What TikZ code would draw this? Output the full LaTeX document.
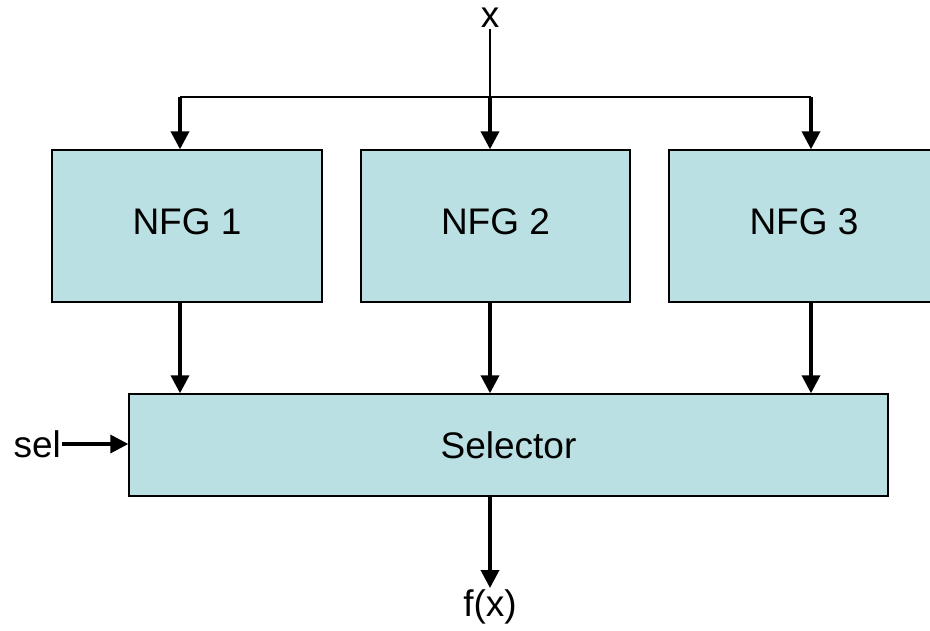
\documentclass[tikz,border=0pt]{standalone}
\usepackage{fontspec}
\setmainfont{Liberation Sans}
\usetikzlibrary{arrows.meta,calc}
\definecolor{boxfill}{HTML}{BAE0E3}
\tikzset{
  blk/.style={draw=black, line width=1.4pt, fill=boxfill, font=\fontsize{37}{40}\selectfont, inner sep=0pt},
  nfg/.style={blk, minimum height=152pt, text depth=8pt},
  lbl/.style={font=\fontsize{37}{40}\selectfont, inner sep=1pt},
  arr/.style={line width=3.6pt, -{Triangle[length=18pt,width=18pt]}},
  bus/.style={line width=1.5pt}
}
\begin{document}
\begin{tikzpicture}[x=1pt,y=1pt]
\useasboundingbox (0,0) rectangle (930,-630);
\node[nfg, minimum width=270pt] (n1) at (187,-226) {NFG 1};
\node[nfg, minimum width=269pt] (n2) at (495.5,-226) {NFG 2};
\node[nfg, minimum width=270pt] (n3) at (804,-226) {};
\node[lbl, text depth=8pt, inner sep=0pt] (t3) at (n3.center) {NFG 3};
\node[blk, minimum width=759pt, minimum height=102pt] (sel) at (508.5,-445) {Selector};
\node[lbl, anchor=south] (x) at (490,-29) {x};
\node[lbl, anchor=north] (fx) at (490,-588) {f(x)};
\node[lbl, anchor=east] (sl) at (62,-444) {sel};
\coordinate (b1) at (180,-97);
\coordinate (b2) at (490,-97);
\coordinate (b3) at (811,-97);
\draw[bus] (b1) -- (b3);
\draw[bus] (x.south) -- (b2);
\draw[arr] (b1) -- (b1 |- n1.north);
\draw[arr] (b2) -- (b2 |- n2.north);
\draw[arr] (b3) -- (b3 |- n3.north);
\draw[arr] (b1 |- n1.south) -- (b1 |- sel.north);
\draw[arr] (b2 |- n2.south) -- (b2 |- sel.north);
\draw[arr] (b3 |- n3.south) -- (b3 |- sel.north);
\draw[arr] (b2 |- sel.south) -- (fx.north);
\draw[arr] (sl.east) -- (sel.west |- sl.east);
\end{tikzpicture}
\end{document}
